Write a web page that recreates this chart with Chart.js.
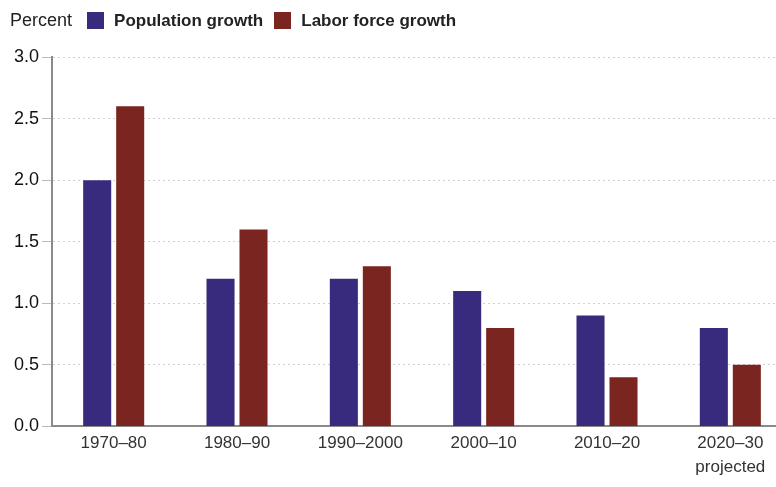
<!DOCTYPE html>
<html>
<head>
<meta charset="utf-8">
<script src="https://cdn.jsdelivr.net/npm/chart.js@4/dist/chart.umd.min.js"></script>
<style>
  html, body { margin: 0; padding: 0; background: #fff; overflow: hidden; }
  #wrap { position: relative; width: 792px; height: 487px; }
  #legend { position: absolute; left: 10px; top: 10px; font-family: "Liberation Sans", Arial, sans-serif; font-size: 17px; color: #222; display: flex; align-items: center; white-space: nowrap; }
  #legend .box { display: inline-block; width: 17px; height: 17px; margin: 0 10px 0 0; }
  #legend b { margin-right: 11px; }
</style>
</head>
<body>
<div id="wrap">
  <div id="legend"></div>
  <canvas id="chart" width="792" height="487"></canvas>
</div>
<script>
'use strict';

const categories = ['1970–80', '1980–90', '1990–2000', '2000–10', '2010–20', ['2020–30', 'projected']];
const populationGrowth = [2.0, 1.2, 1.2, 1.1, 0.9, 0.8];
const laborForceGrowth = [2.6, 1.6, 1.3, 0.8, 0.4, 0.5];
const yTicks = [0, 0.5, 1.0, 1.5, 2.0, 2.5, 3.0];

const colors = { pop: '#382a7c', labor: '#7b2520' };

document.getElementById('legend').innerHTML =
  '<span style="margin-right:15px;font-size:18px">Percent</span>' +
  `<span class="box" style="background:${colors.pop}"></span><b>Population growth</b>` +
  `<span class="box" style="background:${colors.labor}"></span><b>Labor force growth</b>`;

const ctx = document.getElementById('chart').getContext('2d');
new Chart(ctx, {
  type: 'bar',
  data: {
    labels: categories,
    datasets: [
      { label: 'Population growth', data: populationGrowth, backgroundColor: colors.pop },
      { label: 'Labor force growth', data: laborForceGrowth, backgroundColor: colors.labor },
    ],
  },
  options: {
    responsive: false,
    animation: false,
    categoryPercentage: 0.535,
    barPercentage: 0.85,
    layout: { padding: { top: 57, left: 11, right: 0, bottom: 3 } },
    plugins: { legend: { display: false }, tooltip: { enabled: false } },
    scales: {
      x: {
        grid: { display: false, drawTicks: false },
        border: { color: '#8a8a8a', width: 2 },
        ticks: { color: '#333', font: { family: 'Liberation Sans', size: 17, lineHeight: 1.4 }, padding: 5, maxRotation: 0, autoSkip: false },
      },
      y: {
        min: 0,
        max: 3,
        afterBuildTicks: (axis) => { axis.ticks = yTicks.map((v) => ({ value: v })); },
        grid: { color: '#d0d0d0', tickLength: 10, tickColor: '#bbb', tickBorderDash: [] },
        border: { color: '#8a8a8a', width: 2, dash: [2, 3] },
        ticks: { color: '#111', font: { family: 'Liberation Sans', size: 18 }, padding: 3, callback: (v) => Number(v).toFixed(1) },
      },
    },
  },
});
</script>
</body>
</html>
